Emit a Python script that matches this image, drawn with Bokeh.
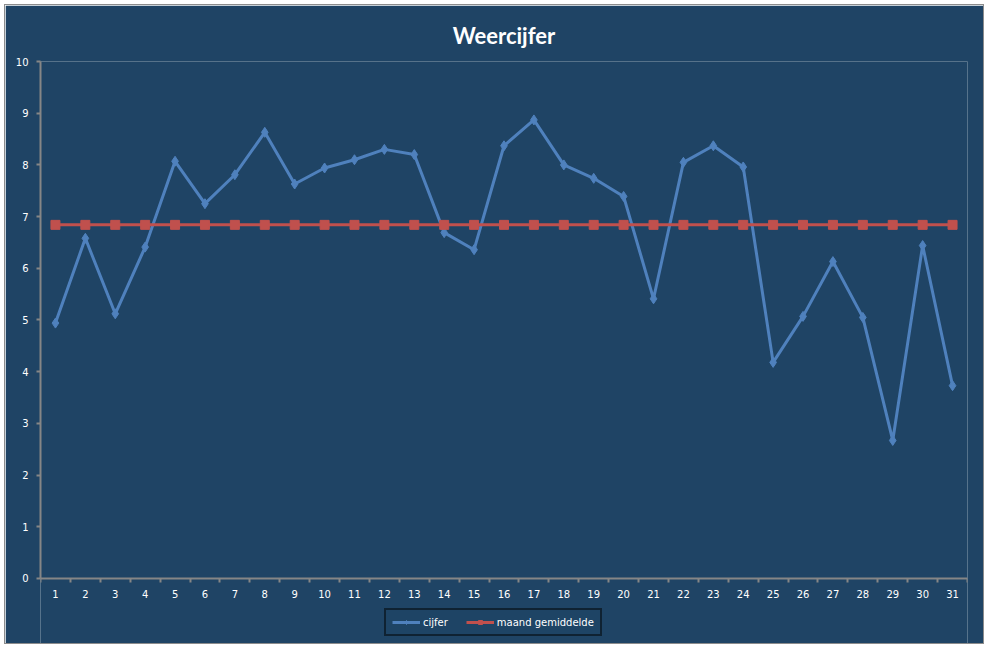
from bokeh.embed import file_html
from bokeh.models import FixedTicker, Legend, LegendItem, Range1d
from bokeh.plotting import figure
from bokeh.resources import INLINE

# data
dagen = list(range(1, 32))
cijfer = [4.94, 6.58, 5.12, 6.41, 8.07, 7.25, 7.81, 8.63, 7.63, 7.94,
          8.10, 8.30, 8.20, 6.69, 6.36, 8.37, 8.87, 8.00, 7.74, 7.39,
          5.41, 8.05, 8.37, 7.96, 4.18, 5.07, 6.13, 5.05, 2.67, 6.44, 3.73]
maand_gemiddelde = [6.84] * 31
y_ticks = list(range(0, 11))

BG = "#1F4465"
BLUE = "#4F81BD"
RED = "#C0504D"
AXIS = "#868686"

# the frame runs down to the bottom edge so the legend can sit under the x axis
p = figure(frame_width=927, frame_height=582, output_backend="svg", toolbar_location=None,
           x_range=Range1d(0.5, 31.5), y_range=Range1d(-1.2573, 10),
           min_border_left=35, min_border_right=16,
           min_border_top=56, min_border_bottom=0,
           styles={"margin-left": "4px", "margin-top": "4px",
                   "border": "1px solid #8C8C8C"})

p.background_fill_color = BG
p.border_fill_color = BG
p.outline_line_color = None
p.grid.visible = False

p.title.text = "Weercijfer"
p.title.align = "center"
p.title.offset = -10
p.title.text_color = "white"
p.title.text_font = "Lato"
p.title.text_font_style = "bold"
p.title.text_font_size = "22px"
p.title.standoff = 26

# x axis: fixed at y=0, labels in the middle, tick marks between the days
p.xaxis.fixed_location = 0
p.xaxis.ticker = FixedTicker(ticks=dagen, minor_ticks=[d - 0.5 for d in dagen] + [31.5])
p.xaxis.major_tick_out = 0
p.xaxis.major_tick_in = 0
p.xaxis.minor_tick_out = 4
p.xaxis.minor_tick_in = 0
p.xaxis.minor_tick_line_color = AXIS
p.xaxis.minor_tick_line_width = 2

p.yaxis.ticker = FixedTicker(ticks=y_ticks)
p.yaxis.bounds = (0, 10)
p.yaxis.major_tick_out = 4
p.yaxis.major_tick_in = 0
p.yaxis.minor_tick_line_color = None
p.yaxis.major_tick_line_color = AXIS
p.yaxis.major_tick_line_width = 2

for ax in (p.xaxis, p.yaxis):
    ax.axis_label = None
    ax.axis_line_color = AXIS
    ax.axis_line_width = 2
    ax.major_label_text_color = "white"
    ax.major_label_text_font = "DejaVu Sans"
    ax.major_label_text_font_size = "10px"
    ax.major_label_standoff = 8

l1 = p.line(dagen, cijfer, color=BLUE, line_width=3)
m1 = p.scatter(dagen, cijfer, marker="diamond", size=10, color=BLUE)
l2 = p.line(dagen, maand_gemiddelde, color=RED, line_width=3)
m2 = p.scatter(dagen, maand_gemiddelde, marker="square", size=9, color=RED)

legend = Legend(items=[LegendItem(label="cijfer", renderers=[l1, m1]),
                       LegendItem(label="maand gemiddelde", renderers=[l2, m2])],
                orientation="horizontal", location=(344, 7))
legend.background_fill_color = BG
legend.border_line_color = "black"
legend.border_line_width = 2
legend.label_text_color = "white"
legend.label_text_font = "DejaVu Sans"
legend.label_text_font_size = "10px"
legend.label_height = 12
legend.glyph_width = 28
legend.glyph_height = 10
legend.label_standoff = 3
legend.spacing = 18
legend.padding = 6
legend.margin = 0
p.add_layout(legend)

open("out.html", "w").write(file_html(p, INLINE))
